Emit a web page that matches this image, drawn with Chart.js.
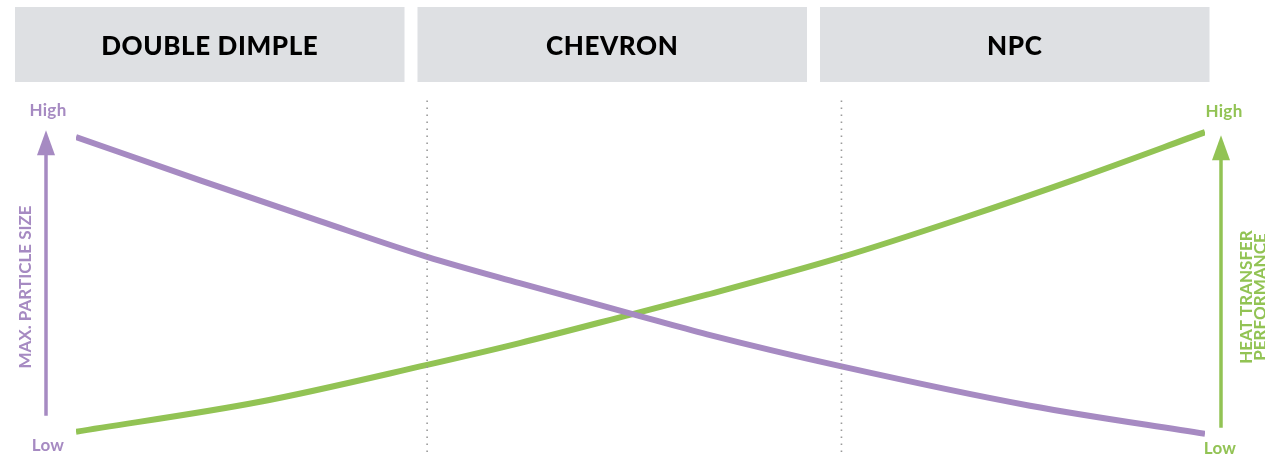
<!DOCTYPE html>
<html>
<head>
<meta charset="utf-8">
<script src="https://cdn.jsdelivr.net/npm/chart.js@4"></script>
<style>
html,body{margin:0;padding:0;background:#fff;}
#wrap{width:1265px;height:458px;position:relative;}
</style>
</head>
<body>
<div id="wrap"><canvas id="c"></canvas></div>
<script>
// Categories (column headers)
const categories = ["DOUBLE DIMPLE", "CHEVRON", "NPC"];
// Max. particle size: position along the span (0..100) and relative level (0 = Low, 100 = High)
const particleX    = [0, 11.0, 21.6, 31.1, 39.3, 49.3, 55.9, 67.8, 84.5, 100];
const particleSize = [98.1, 83.8, 70.3, 58.5, 49.8, 39.6, 32.9, 22.3, 9.3, 0];
// Heat transfer performance
const heatX        = [0, 16.3, 31.1, 39.3, 49.3, 55.9, 67.8, 78.3, 88.9, 100];
const heatTransfer = [0.7, 10.6, 22.8, 30.0, 39.6, 46.0, 58.4, 71.0, 84.6, 99.7];
// Column divider positions (same 0..100 scale)
const dividers = [31.1, 67.8];
// Axis labels
const leftAxisTitle = "MAX. PARTICLE SIZE";
const rightAxisTitle = ["HEAT TRANSFER", "PERFORMANCE"];
const levelLabels = ["Low", "High"];

const PURPLE = "#A68AC2";
const GREEN = "#92C354";
const HEADER_BG = "#DEE0E3";

const datasets = [];
dividers.forEach(d => {
  datasets.push({
    data: [{x: d, y: -6}, {x: d, y: 111}],
    borderColor: "#9a9a9a",
    borderWidth: 1.6,
    borderDash: [1.6, 5.4],
    pointRadius: 0,
    tension: 0
  });
});
datasets.push({
  label: leftAxisTitle,
  data: particleX.map((x, i) => ({x, y: particleSize[i]})),
  borderColor: PURPLE, borderWidth: 6, pointRadius: 0,
  cubicInterpolationMode: "monotone"
});
datasets.push({
  label: rightAxisTitle.join(" "),
  data: heatX.map((x, i) => ({x, y: heatTransfer[i]})),
  borderColor: GREEN, borderWidth: 6, pointRadius: 0,
  cubicInterpolationMode: "monotone"
});

const decor = {
  id: "decor",
  beforeDraw(chart) {
    const ctx = chart.ctx;
    const boxW = 389.5, gap = 13, x0 = 15, y0 = 7, h = 75;
    ctx.save();
    categories.forEach((c, i) => {
      const bx = x0 + i * (boxW + gap);
      ctx.fillStyle = HEADER_BG;
      ctx.fillRect(bx, y0, boxW, h);
      ctx.fillStyle = "#000";
      ctx.font = "900 26px Lato, 'DejaVu Sans', sans-serif";
      ctx.letterSpacing = "0.6px";
      ctx.textAlign = "center";
      ctx.textBaseline = "middle";
      ctx.fillText(c, bx + boxW / 2, y0 + h / 2 + 2);
    });
    ctx.restore();
  },
  afterDraw(chart) {
    const ctx = chart.ctx;
    const ys = chart.scales.y;
    const yHigh = ys.getPixelForValue(100), yLow = ys.getPixelForValue(0);
    function arrow(x, yBottom, yTip, color) {
      ctx.save();
      ctx.strokeStyle = color; ctx.fillStyle = color; ctx.lineWidth = 3.5;
      ctx.beginPath(); ctx.moveTo(x, yBottom); ctx.lineTo(x, yTip + 20); ctx.stroke();
      ctx.beginPath(); ctx.moveTo(x, yTip); ctx.lineTo(x - 9, yTip + 25); ctx.lineTo(x + 9, yTip + 25); ctx.closePath(); ctx.fill();
      ctx.restore();
    }
    arrow(46, yLow - 18, yHigh - 1, PURPLE);
    arrow(1221, yLow - 6, yHigh + 4, GREEN);
    ctx.save();
    ctx.font = "bold 17px Lato, 'DejaVu Sans', sans-serif";
    ctx.letterSpacing = "0.3px";
    ctx.textAlign = "center"; ctx.textBaseline = "middle";
    ctx.fillStyle = PURPLE;
    ctx.fillText(levelLabels[1], 48, yHigh - 21);
    ctx.fillText(levelLabels[0], 48, yLow + 12);
    ctx.fillStyle = GREEN;
    ctx.fillText(levelLabels[1], 1224, yHigh - 20);
    ctx.fillText(levelLabels[0], 1220, yLow + 15);
    // rotated titles
    ctx.font = "bold 17px Lato, 'DejaVu Sans', sans-serif";
    ctx.letterSpacing = "0px";
    ctx.save();
    ctx.translate(26, 287); ctx.rotate(-Math.PI / 2);
    ctx.fillStyle = PURPLE;
    ctx.fillText(leftAxisTitle, 0, 0);
    ctx.restore();
    ctx.save();
    ctx.translate(1247, 297); ctx.rotate(-Math.PI / 2);
    ctx.fillStyle = GREEN;
    ctx.fillText(rightAxisTitle[0], 0, 0);
    ctx.fillText(rightAxisTitle[1], 0, 13.5);
    ctx.restore();
    ctx.restore();
  }
};

new Chart(document.getElementById("c"), {
  type: "line",
  data: { datasets },
  options: {
    responsive: true,
    maintainAspectRatio: false,
    animation: false,
    layout: { padding: { left: 76, right: 60, top: 98, bottom: 6 } },
    plugins: { legend: { display: false }, tooltip: { enabled: false } },
    scales: {
      x: { type: "linear", min: 0, max: 100, display: false },
      y: { type: "linear", min: -6, max: 111, display: false }
    }
  },
  plugins: [decor]
});
</script>
</body>
</html>
